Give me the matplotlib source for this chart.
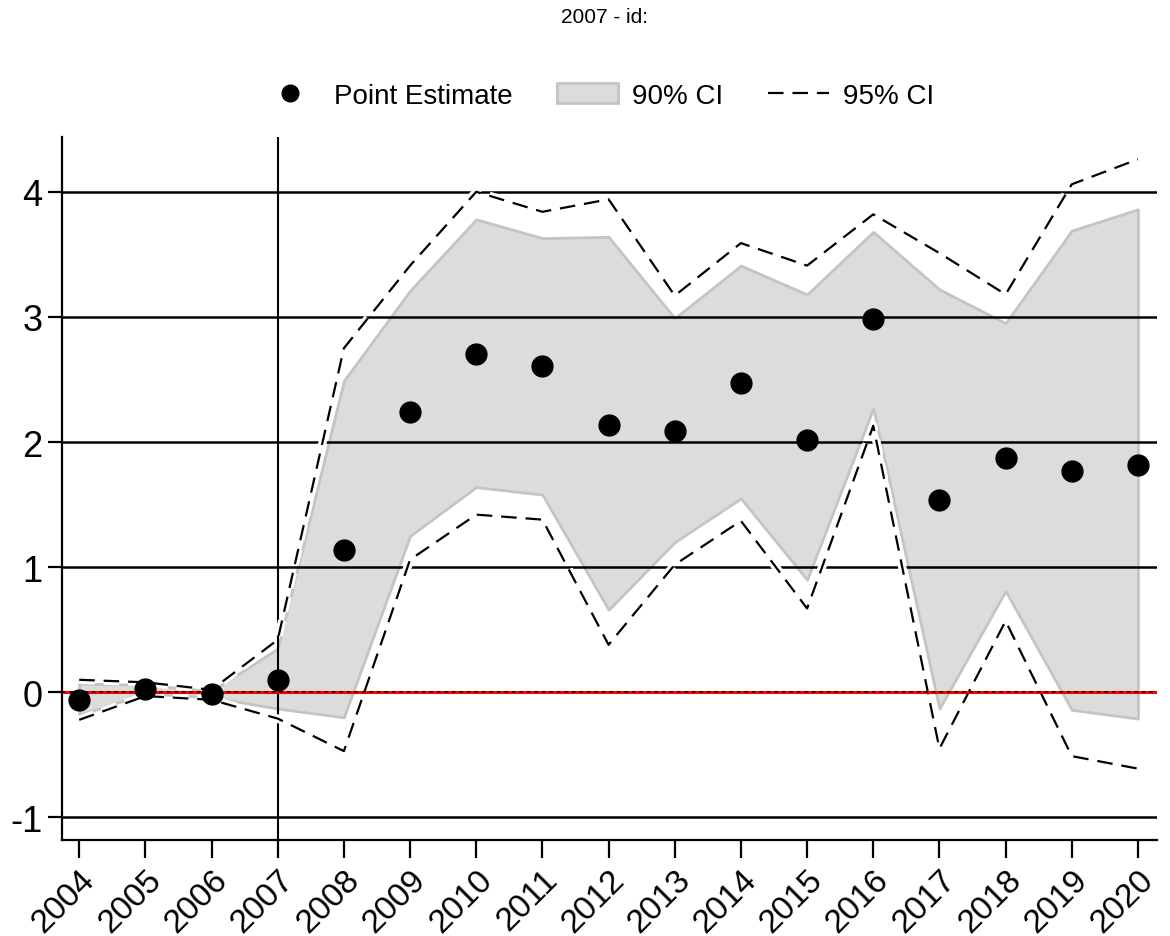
import matplotlib
matplotlib.use("Agg")
import matplotlib.pyplot as plt
import matplotlib.patheffects as pe
from matplotlib.lines import Line2D
from matplotlib.patches import Patch

plt.rcParams['font.family'] = ['Liberation Sans', 'DejaVu Sans']

# Event-study estimates
years = list(range(2004, 2021))
point = [-0.06, 0.03, -0.01, 0.10, 1.14, 2.24, 2.70, 2.61, 2.14, 2.09, 2.47, 2.02, 2.98, 1.54, 1.87, 1.77, 1.82]
ci90_hi = [0.07, 0.06, 0.01, 0.35, 2.49, 3.21, 3.78, 3.63, 3.64, 2.99, 3.41, 3.18, 3.68, 3.22, 2.95, 3.69, 3.86]
ci90_lo = [-0.18, -0.01, -0.04, -0.13, -0.20, 1.25, 1.64, 1.58, 0.66, 1.20, 1.55, 0.90, 2.27, -0.13, 0.81, -0.14, -0.21]
ci95_hi = [0.10, 0.08, 0.02, 0.42, 2.75, 3.41, 4.00, 3.84, 3.94, 3.17, 3.59, 3.41, 3.82, 3.51, 3.18, 4.06, 4.26]
ci95_lo = [-0.22, -0.03, -0.06, -0.21, -0.47, 1.06, 1.42, 1.38, 0.38, 1.02, 1.37, 0.67, 2.13, -0.45, 0.57, -0.51, -0.61]
yticks = [-1, 0, 1, 2, 3, 4]
event_year = 2007

fig = plt.figure(figsize=(11.7, 9.37), dpi=100)
ax = fig.add_axes([0.053, 0.1025, 0.936, 0.7505])

# 90% band
ax.fill_between(years, ci90_lo, ci90_hi, facecolor="#dcdcdc", edgecolor="#c4c4c4",
                linewidth=2, zorder=1)

# horizontal grid lines
for yv in yticks:
    if yv != 0:
        ax.axhline(yv, color="black", linewidth=1.8, zorder=2)
ax.axvline(event_year, color="black", linewidth=1.5, zorder=2)

# 95% CI dashed lines with white halo
halo = [pe.Stroke(linewidth=6, foreground="white"), pe.Normal()]
for series in (ci95_hi, ci95_lo):
    ax.plot(years, series, color="black", linewidth=1.6, dashes=(7, 4),
            path_effects=halo, zorder=3)

# zero reference line
ax.axhline(0, color="red", linewidth=2.2, zorder=4)
ax.axhline(0, color="black", linewidth=1.2, linestyle=(0, (2, 2.5)), zorder=4)

ax.plot(years, point, "o", color="black", markersize=15, zorder=5, linestyle="none")

ax.set_xlim(2003.74, 2020.29)
ax.set_ylim(-1.18, 4.44)
ax.set_xticks(years)
ax.set_xticklabels([str(y) for y in years], rotation=45, ha="right", va="top",
                   rotation_mode="anchor", fontsize=24)
ax.set_yticks(yticks)
ax.set_yticklabels([str(v) for v in yticks], fontsize=26)
ax.tick_params(axis="x", length=13, width=1.6, pad=4)
ax.tick_params(axis="y", length=10, width=1.6, pad=4)

for side in ("top", "right"):
    ax.spines[side].set_visible(False)
for side in ("left", "bottom"):
    ax.spines[side].set_linewidth(1.6)

fig.text(0.517, 0.981, "2007 - id:", ha="center", va="center", fontsize=15)

handles = [
    Line2D([], [], marker="o", color="black", linestyle="none", markersize=12),
    Patch(facecolor="#dcdcdc", edgecolor="#c4c4c4", linewidth=2),
    Line2D([], [], color="black", linewidth=1.6, dashes=(7, 4)),
]
fig.legend(handles, ["Point Estimate", "90% CI", "95% CI"], loc="center",
           bbox_to_anchor=(0.51, 0.897), ncol=3, frameon=False, fontsize=20,
           handlelength=2.2, handletextpad=0.5, columnspacing=1.6)

fig.savefig("out.png", dpi=100)
